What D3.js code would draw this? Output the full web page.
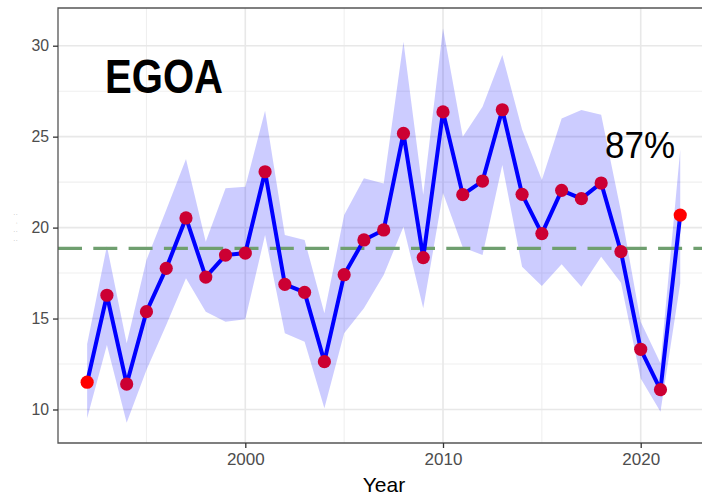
<!DOCTYPE html>
<html>
<head>
<meta charset="utf-8">
<script src="https://cdn.jsdelivr.net/npm/d3@7"></script>
<style>
  html, body { margin: 0; padding: 0; background: #fff; }
  svg { display: block; font-family: "Liberation Sans", Arial, sans-serif; }
</style>
</head>
<body>
<svg id="chart" width="702" height="497"></svg>
<script>
const years = d3.range(1992, 2023);
const values = [11.50,16.28,11.40,15.38,17.76,20.53,17.28,18.49,18.60,23.07,16.88,16.44,12.63,17.41,19.32,19.87,25.18,18.35,26.36,21.81,22.56,26.48,21.83,19.67,22.05,21.59,22.45,18.68,13.31,11.09,20.69];
const upper  = [13.6,18.99,13.64,18.22,20.97,23.77,19.22,22.16,22.25,26.43,19.59,19.32,15.29,20.69,22.71,22.43,30.22,21.8,30.96,25.0,26.65,29.49,25.4,22.62,26.0,26.47,26.2,20.9,14.83,12.54,24.3];
const lower  = [9.52,13.55,9.27,12.17,14.65,17.21,15.38,14.83,14.96,19.59,14.19,13.73,10.07,14.19,15.56,17.39,20.05,15.56,21.9,18.9,18.5,23.44,17.85,16.79,17.98,16.75,18.4,16.97,11.71,9.88,16.94];
const meanValue = 18.86;
const yTicks = [10, 15, 20, 25, 30];
const yMinor = [12.5, 17.5, 22.5, 27.5];
const xTicks = [2000, 2010, 2020];
const xMinor = [1995, 2005, 2015];
const regionLabel = "EGOA";
const pctLabel = "87%";

const data = years.map((y, i) => ({year: y, v: values[i], hi: upper[i], lo: lower[i]}));

const svg = d3.select("#chart");
const L = 58, T = 8, B = 443, R = 709.9;
const x = d3.scaleLinear().domain([1990.526, 2023.5]).range([L, R]);
const y = d3.scaleLinear().domain([8.158, 32.073]).range([B, T]);

const panel = svg.append("g");
panel.append("clipPath").attr("id", "clip").append("rect")
  .attr("x", L).attr("y", T).attr("width", R - L).attr("height", B - T);
const g = panel.append("g").attr("clip-path", "url(#clip)");

// grid
g.selectAll(".ymin").data(yMinor).join("line")
  .attr("x1", L).attr("x2", R).attr("y1", d => y(d)).attr("y2", d => y(d))
  .attr("stroke", "#efefef").attr("stroke-width", 1.1);
g.selectAll(".xmin").data(xMinor).join("line")
  .attr("y1", T).attr("y2", B).attr("x1", d => x(d)).attr("x2", d => x(d))
  .attr("stroke", "#efefef").attr("stroke-width", 1.1);
g.selectAll(".ymaj").data(yTicks).join("line")
  .attr("x1", L).attr("x2", R).attr("y1", d => y(d)).attr("y2", d => y(d))
  .attr("stroke", "#e8e8e8").attr("stroke-width", 1.6);
g.selectAll(".xmaj").data(xTicks).join("line")
  .attr("y1", T).attr("y2", B).attr("x1", d => x(d)).attr("x2", d => x(d))
  .attr("stroke", "#e8e8e8").attr("stroke-width", 1.6);

// ribbon
g.append("path").datum(data)
  .attr("d", d3.area().x(d => x(d.year)).y0(d => y(d.lo)).y1(d => y(d.hi)))
  .attr("fill", "#0000ff").attr("fill-opacity", 0.2);

// mean line
g.append("line").attr("x1", L).attr("x2", R)
  .attr("y1", y(meanValue)).attr("y2", y(meanValue))
  .attr("stroke", "#6f9f6f").attr("stroke-width", 3.4)
  .attr("stroke-dasharray", "24,11.3");

// line
g.append("path").datum(data)
  .attr("d", d3.line().x(d => x(d.year)).y(d => y(d.v)))
  .attr("fill", "none").attr("stroke", "#0000ff").attr("stroke-width", 4);

// points
g.selectAll("circle").data(data).join("circle")
  .attr("cx", d => x(d.year)).attr("cy", d => y(d.v)).attr("r", 6.6)
  .attr("fill", (d, i) => (i === 0 || i === data.length - 1) ? "#ff0000" : "#cc0033");

// border
svg.append("path")
  .attr("d", `M${R},${T}H${L}V${B}H${R}`)
  .attr("fill", "none").attr("stroke", "#555").attr("stroke-width", 1.3);

// axes
const ax = svg.append("g").attr("transform", `translate(0,${B})`)
  .call(d3.axisBottom(x).tickValues(xTicks).tickFormat(d3.format("d")).tickSize(5).tickPadding(5));
const ay = svg.append("g").attr("transform", `translate(${L},0)`)
  .call(d3.axisLeft(y).tickValues(yTicks).tickSize(5).tickPadding(4));
[ax, ay].forEach(a => {
  a.select(".domain").remove();
  a.selectAll(".tick line").attr("stroke", "#333").attr("stroke-width", 1.3);
  a.selectAll(".tick text").attr("fill", "#4d4d4d")
    .style("font-family", "'Liberation Sans', Arial, sans-serif");
});
ax.selectAll(".tick text").style("font-size", "17px");
ay.selectAll(".tick text").style("font-size", "15.8px");

// axis titles
svg.append("text").attr("x", 384).attr("y", 492).attr("text-anchor", "middle")
  .style("font-size", "21px").attr("fill", "#000").text("Year");
svg.append("text").attr("transform", "translate(17,226) rotate(-90)")
  .attr("text-anchor", "middle").style("font-size", "5px").attr("fill", "#777")
  .style("letter-spacing", "3px").text(": : . :");

// annotations
svg.append("text").attr("x", 105).attr("y", 93)
  .style("font-size", "48px").style("font-weight", "bold").attr("fill", "#000")
  .attr("textLength", 118).attr("lengthAdjust", "spacingAndGlyphs").text(regionLabel);
svg.append("text").attr("x", 605).attr("y", 158)
  .style("font-size", "37px").attr("fill", "#000")
  .attr("textLength", 70).attr("lengthAdjust", "spacingAndGlyphs").text(pctLabel);
</script>
</body>
</html>
